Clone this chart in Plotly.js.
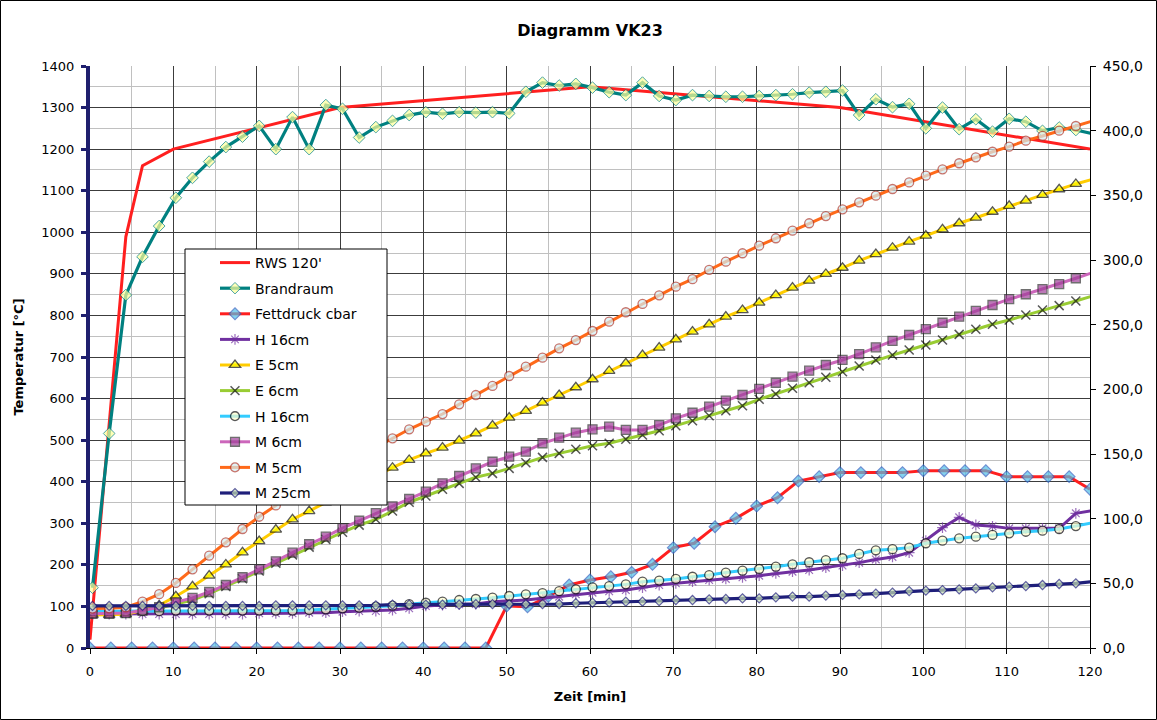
<!DOCTYPE html>
<html>
<head>
<meta charset="utf-8">
<script src="https://cdn.plot.ly/plotly-3.0.1.min.js"></script>
<style>html,body{margin:0;padding:0;background:#fff}#chart{width:1157px;height:720px}</style>
</head>
<body>
<div id="chart"></div>
<script>
// ---- data ----
const tRWS = [0, 4.3, 6.3, 10, 30, 60, 90, 120];
const rws = [20, 989, 1160, 1200, 1300, 1350, 1300, 1200];

const tK = [0.3,2.3,4.3,6.3,8.3,10.3,12.3,14.3,16.3,18.3,20.3,22.3,24.3,26.3,28.3,30.3,32.3,34.3,36.3,38.3,40.3,42.3,44.3,46.3,48.3,50.3,52.3,54.3,56.3,58.3,60.3,62.3,64.3,66.3,68.3,70.3,72.3,74.3,76.3,78.3,80.3,82.3,84.3,86.3,88.3,90.3,92.3,94.3,96.3,98.3,100.3,102.3,104.3,106.3,108.3,110.3,112.3,114.3,116.3,118.3,120.3];

const brandraum = [145,516,849,941,1015,1083,1131,1170,1205,1230,1256,1200,1277,1200,1306,1297,1228,1253,1268,1282,1289,1285,1289,1288,1289,1286,1338,1360,1353,1357,1348,1337,1330,1360,1328,1318,1330,1328,1326,1326,1328,1330,1332,1336,1338,1341,1282,1320,1301,1309,1250,1300,1248,1272,1242,1273,1266,1244,1252,1246,1237];

const tF = [0,2.5,5,7.5,10,12.5,15,17.5,20,22.5,25,27.5,30,32.5,35,37.5,40,42.5,45,47.5,50,52.5,55,57.5,60,62.5,65,67.5,70,72.5,75,77.5,80,82.5,85,87.5,90,92.5,95,97.5,100,102.5,105,107.5,110,112.5,115,117.5,120];
const fettdruck = [0,0,0,0,0,0,0,0,0,0,0,0,0,0,0,0,0,0,0,0,32.5,31.9,40,48.7,52.6,55.1,58.5,64.7,77.6,81,93.8,100.3,109.8,116.2,129.1,132.5,135.6,135.6,135.6,135.6,137.1,137.1,137.1,137.1,132.5,132.5,132.5,132.5,122.7];

const h16a = [26.3,26.3,26.3,26.3,26.3,26.3,26.3,26.3,26.3,26.3,26.8,26.8,26.8,27.3,27.3,28.1,28.6,28.6,29.4,30.7,32.5,33.2,33.8,34,35.8,36.3,37.1,38.4,39.7,41.5,42.8,43.8,44.8,46.7,48.7,50,51.3,52.6,53.4,54.7,55.9,57.7,59,60.3,62.1,63.7,66,68.5,70.4,73.7,83,93,101,95.1,94.1,92.5,92.5,92.5,92.5,104.1,106.2];

const e5 = [25.5,25.5,26,29,33,40,47.6,56,64.6,74,82.7,91.5,99.5,105.9,112.6,119.3,126,132.7,139.4,145.4,150.5,154.9,160.3,166,171.9,178.1,183.3,189.7,195.6,201.6,207.8,214.2,220.1,226.5,232.2,238.7,244.6,250.3,256.2,261.3,267,272.9,278.6,284,289.2,294,299.5,304.6,309.5,314.2,318.8,323.7,328.4,332.7,337.3,341.8,345.9,350.3,354.7,358.8,362.4];

const e6 = [27,27,27.5,29,31,34,37,42,47.5,53.5,59.5,65.5,72,78,84,89.5,95,99.5,105.9,112.7,117.5,122.7,127.3,132,135,138.9,143.3,147.4,150.5,153.6,156.4,158.3,161.4,164.7,168,171.9,175.7,179.6,183.5,187.3,192.3,196.4,200.8,205.1,209.3,213.6,218,222.7,226.5,230.4,234.3,238.1,242.5,246.4,250.3,253.6,257.5,261.3,264.7,268.3,272.2];

const h16b = [28.5,28.5,28.5,28.5,28.5,28.9,28.9,28.9,28.9,28.9,28.9,28.9,28.9,29.4,29.9,30.7,31.2,31.9,32.7,34,35,35.8,37.1,37.9,38.9,40.2,41.5,42.5,43.9,45.4,46.9,47.9,49.2,51.3,52.1,53.4,55.1,56.4,58.3,59.8,61.1,62.9,64.7,66.3,68,69.4,72.7,75.5,76.4,77.6,81,83,84.8,86.1,87.4,88.7,89.9,90.7,92,94.3,96.9];

const m6 = [26.5,26.5,27,29,31.5,35.5,38.7,43.3,48.7,54.7,60.8,67,73.7,80.2,86.1,92.7,98.4,104.3,109.5,115.2,120.9,127.3,133,138.9,144,147.9,151.8,158.3,162.6,166.5,169.1,171.1,168.6,168.6,172.4,177.6,181.9,186.6,191.2,195.6,200.3,205.1,209.8,214.4,218.8,222.7,227.3,232.5,237.4,242,246.6,251.5,256.2,260.6,265.2,269.7,273.5,277.5,281.4,285.9,290.2];

const m5 = [30.5,30.7,31.5,35.8,41.6,50.3,60.8,71.4,81.7,92,101.5,110.2,118,126,133.5,141,148,155,162.1,169.1,175,180.9,188.4,195.6,202.6,210.3,217.5,224.5,231.7,238.1,245.1,252.3,259.6,266,272.7,279.4,285.2,292.3,298.7,305.2,311.1,316.8,322.7,328.4,334,339.2,344.6,349.7,354.9,360,365.2,370.1,374.8,379.4,383.7,387.6,392.3,395.9,400,403.6,407.5];

const m25 = [32.5,32.5,32.5,32.5,32.5,32.5,32.5,32.5,32.5,32.5,32.5,33,33,33,33,33,33,33,33.5,33.5,33.5,33.5,33.5,34,34,34,34,34,34,34.6,35,35.2,35.8,35.8,36.3,37.1,37.1,37.6,37.9,38.4,38.4,39.2,39.7,39.7,40.5,41,41.5,42,42.8,44,44.3,44.8,45.4,46.1,46.9,47.4,47.9,48.7,49.5,50,51.3];

const names = ["RWS 120'", "Brandraum", "Fettdruck cbar", "H 16cm", "E 5cm", "E 6cm", "H 16cm", "M 6cm", "M 5cm", "M 25cm"];
const xTitle = "Zeit [min]";
const yTitle = "Temperatur [°C]";
const chartTitle = "Diagramm VK23";

// ---- helpers ----
const XMAX = 120;
function sz(ts, s) { return ts.map(v => v <= XMAX ? s : 0); }
const FONT = "DejaVu Sans, Liberation Sans, Arial, sans-serif";

function tr(name, x, y, axis, lineColor, lw, marker, group) {
  const t = {
    type: 'scatter', mode: marker ? 'lines+markers' : 'lines', name: name,
    x: x, y: y, yaxis: axis, legendgroup: group,
    line: {color: lineColor, width: lw},
    hoverinfo: 'skip'
  };
  if (marker) t.marker = marker;
  return t;
}

const traces = [
  tr(names[0], tRWS, rws, 'y', '#ff1f1f', 3, null, 'g0'),
  tr(names[1], tK, brandraum, 'y', '#008080', 3.2,
     {symbol: 'diamond', size: sz(tK, 9), color: '#ffff99', line: {color: '#008080', width: 1}}, 'g1'),
  tr(names[2], tF, fettdruck, 'y2', '#ff1f1f', 3,
     {symbol: 'diamond', size: sz(tF, 9), color: '#4fc0e8', line: {color: '#3060c0', width: 1.2}}, 'g2'),
  tr(names[3], tK, h16a, 'y2', '#7030a0', 3,
     {symbol: 'asterisk-open', size: sz(tK, 9), color: '#7030a0', line: {color: '#7030a0', width: 1.2}}, 'g3'),
  tr(names[4], tK, e5, 'y2', '#ffcc00', 3,
     {symbol: 'triangle-up', size: sz(tK, 10), color: '#ffff00', line: {color: '#111111', width: 1.3}}, 'g4'),
  tr(names[5], tK, e6, 'y2', '#99cc33', 3,
     {symbol: 'x-thin-open', size: sz(tK, 9), color: '#111111', line: {color: '#111111', width: 1.5}}, 'g5'),
  tr(names[6], tK, h16b, 'y2', '#33ccff', 3,
     {symbol: 'circle', size: sz(tK, 9), color: '#ffffcc', line: {color: '#111111', width: 1.3}}, 'g6'),
  tr(names[7], tK, m6, 'y2', '#cc66bb', 3,
     {symbol: 'square', size: sz(tK, 9), color: '#a0409a', line: {color: '#333333', width: 1.3}}, 'g7'),
  tr(names[8], tK, m5, 'y2', '#ff6a1a', 3,
     {symbol: 'circle', size: sz(tK, 9), color: '#d4eef4', line: {color: '#b03a2e', width: 1.3}}, 'g8'),
  tr(names[9], tK, m25, 'y2', '#1f1f7a', 3.2,
     {symbol: 'diamond', size: sz(tK, 7), color: '#c6e0b4', line: {color: '#1f1f7a', width: 1.2}}, 'g9')
];

// plot area in px: x 90..1090, y 66..648
const PL = 90, PR = 1090, PT = 66, PB = 648;
const px = v => (v - PL) / (PR - PL);
const py = v => (PB - v) / (PB - PT);

const layout = {
  width: 1157, height: 720,
  margin: {l: PL, r: 1157 - PR, t: PT, b: 720 - PB, pad: 0},
  paper_bgcolor: '#ffffff', plot_bgcolor: '#ffffff',
  separators: ',.',
  font: {family: FONT, size: 13, color: '#000'},
  showlegend: true,
  title: {text: '<b>' + chartTitle + '</b>', font: {family: FONT, size: 16, color: '#000'},
          x: 0.5, xref: 'paper', xanchor: 'center', y: 1 - 30 / 720, yanchor: 'middle'},
  xaxis: {
    range: [0, 120], dtick: 10, tick0: 0, showgrid: true, gridcolor: '#3c3c3c', gridwidth: 1,
    minor: {dtick: 5, showgrid: true, gridcolor: '#c0c0c0', gridwidth: 1, ticks: ''},
    showline: true, linecolor: '#000', linewidth: 1, ticks: 'outside', ticklen: 5, tickcolor: '#000',
    zeroline: false, tickfont: {family: FONT, size: 13}, ticklabelstandoff: 6,
    title: {text: '<b>' + xTitle + '</b>', font: {family: FONT, size: 13}, standoff: 14}
  },
  yaxis: {
    range: [0, 1400], dtick: 100, tick0: 0, showgrid: true, gridcolor: '#3c3c3c', gridwidth: 1,
    minor: {dtick: 50, showgrid: true, gridcolor: '#c0c0c0', gridwidth: 1, ticks: ''},
    showline: true, linecolor: '#1f1f6e', linewidth: 4, ticks: 'outside', ticklen: 5, tickwidth: 3,
    tickcolor: '#1f1f6e', zeroline: false, tickfont: {family: FONT, size: 13}, ticklabelstandoff: 4,
    title: {text: '<b>' + yTitle + '</b>', font: {family: FONT, size: 13}, standoff: 16}
  },
  yaxis2: {
    range: [0, 450], dtick: 50, tick0: 0, overlaying: 'y', side: 'right', anchor: 'x',
    showgrid: false, zeroline: false, showline: true, linecolor: '#000', linewidth: 1,
    ticks: 'outside', ticklen: 5, tickcolor: '#000', tickformat: '.1f',
    tickfont: {family: FONT, size: 14}, ticklabelstandoff: 4
  },
  legend: {
    x: px(215), y: py(247), xanchor: 'left', yanchor: 'top',
    bgcolor: 'rgba(0,0,0,0)', borderwidth: 0, tracegroupgap: 4.4,
    font: {family: FONT, size: 14, color: '#000'}, traceorder: 'grouped'
  },
  shapes: [
    {type: 'rect', xref: 'paper', yref: 'paper', x0: px(185), x1: px(387), y0: py(505), y1: py(249),
     fillcolor: '#ffffff', line: {color: '#000', width: 1}, layer: 'above'},
    {type: 'rect', xref: 'paper', yref: 'paper', x0: px(0.5), x1: px(1156.5), y0: py(719.5), y1: py(0.5),
     fillcolor: 'rgba(0,0,0,0)', line: {color: '#000', width: 1}, layer: 'above'}
  ]
};

Plotly.newPlot('chart', traces, layout, {displayModeBar: false, staticPlot: true});
</script>
</body>
</html>
